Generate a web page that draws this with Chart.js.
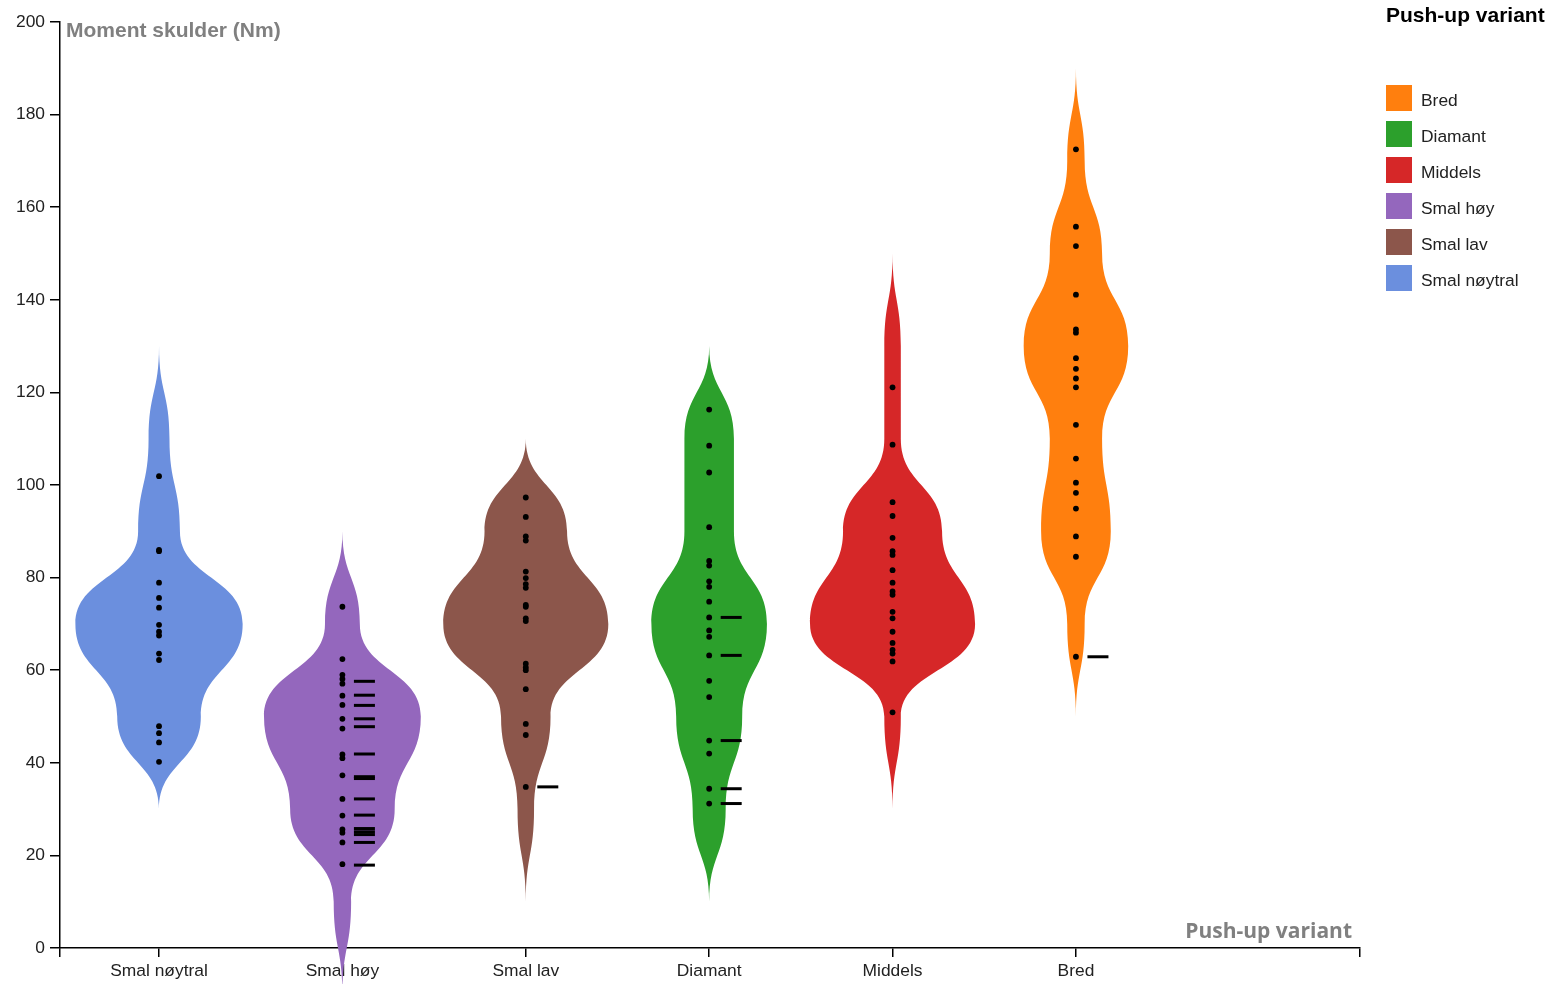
<!DOCTYPE html>
<html>
<head>
<meta charset="utf-8">
<title>Moment skulder per push-up variant</title>
<script src="https://cdn.jsdelivr.net/npm/chart.js@4/dist/chart.umd.min.js"></script>
<style>
  html, body { margin: 0; padding: 0; background: #fff; }
  #wrap { position: relative; width: 1551px; height: 984px; overflow: hidden; }
  #chart { position: absolute; left: 0; top: 0; }
  #legend { position: absolute; left: 1386px; top: 0; width: 165px; height: 300px;
            font-family: "Liberation Sans", Arial, sans-serif; color: #222; }
  #legend .title { position: absolute; left: 0; top: 3px; font-weight: bold; font-size: 21px;
                   line-height: 24px; color: #000; white-space: nowrap; }
  #legend .item { position: absolute; left: 0; height: 26px; white-space: nowrap; }
  #legend .swatch { position: absolute; left: 0; top: 0; width: 26px; height: 26px; }
  #legend .label { position: absolute; left: 35px; top: 2px; font-size: 17.4px; line-height: 26px; }
</style>
</head>
<body>
<div id="wrap">
  <canvas id="chart" width="1551" height="984"></canvas>
  <div id="legend"></div>
</div>
<script>
// Push-up variants in axis order
const categories = ['Smal nøytral', 'Smal høy', 'Smal lav', 'Diamant', 'Middels', 'Bred'];

// Shoulder moment (Nm), one value per subject
const smalNoytral = [101.9, 86.0, 85.7, 78.9, 75.6, 73.5, 69.8, 68.3, 67.5, 63.6, 62.2, 47.9, 46.4, 44.4, 40.2];
const smalHoy = [73.7, 62.4, 59.0, 58.1, 57.1, 54.5, 52.5, 49.5, 47.4, 41.8, 41.0, 37.3, 32.2, 28.6, 25.6, 24.9, 22.8, 18.1];
const smalLav = [97.3, 93.1, 88.9, 88.0, 81.3, 79.9, 78.6, 77.8, 74.1, 73.7, 71.2, 70.6, 61.4, 60.6, 60.0, 55.9, 48.4, 46.0, 34.8];
const diamant = [116.3, 108.5, 102.7, 90.9, 83.6, 82.6, 79.2, 78.0, 74.8, 71.4, 68.6, 67.2, 63.2, 57.7, 54.2, 44.8, 42.0, 34.4, 31.2];
const middels = [121.1, 108.7, 96.3, 93.3, 88.6, 85.7, 84.9, 81.6, 78.9, 77.0, 76.3, 72.6, 71.2, 68.3, 65.9, 64.4, 63.6, 61.9, 50.9];
const bred = [172.5, 155.8, 151.6, 141.1, 133.6, 132.9, 127.4, 125.1, 123.0, 121.1, 113.0, 105.7, 100.5, 98.3, 94.9, 88.9, 84.5, 62.9];

// Marked observations, drawn as short dashes beside each violin
const markSmalNoytral = [];
const markSmalHoy = [57.6, 54.6, 52.4, 49.5, 47.8, 41.9, 37.0, 36.6, 32.2, 28.7, 25.8, 25.1, 24.5, 22.8, 17.9];
const markSmalLav = [34.8];
const markDiamant = [71.4, 63.2, 44.8, 34.4, 31.2];
const markMiddels = [];
const markBred = [62.9];

// Y axis tick values (Nm)
const yTickValues = [0, 20, 40, 60, 80, 100, 120, 140, 160, 180, 200];

// Histogram bin width used for the violin outlines (Nm)
const binWidth = 20;

const groups = [smalNoytral, smalHoy, smalLav, diamant, middels, bred];
const marks = [markSmalNoytral, markSmalHoy, markSmalLav, markDiamant, markMiddels, markBred];
const colors = ['#6b8fde', '#9467bd', '#8c564b', '#2ca02c', '#d62728', '#ff7f0e'];

const FONT = '"Liberation Sans", Arial, sans-serif';
const violinHalfWidth = 0.456;   // widest violin half-width, in category units
const markOffset = 0.12;         // dash centre offset to the right of the violin axis

// Binned density profile, padded with an empty bin at each end so the outline closes in a tip
function violinProfile(values) {
  const lo = Math.floor(Math.min(...values) / binWidth);
  const hi = Math.floor(Math.max(...values) / binWidth);
  const prof = [];
  for (let b = lo - 1; b <= hi + 1; b++) {
    const n = values.filter(v => v >= b * binWidth && v < (b + 1) * binWidth).length;
    prof.push({ mid: (b + 0.5) * binWidth, density: n / values.length });
  }
  return prof;
}
const profiles = groups.map(violinProfile);
const maxDensity = Math.max(...profiles.flatMap(p => p.map(b => b.density)));

// Vertical bump curve: each side is vertical at every bin centre, S-shaped in between
function bumpY(ctx, pts, first) {
  pts.forEach((p, k) => {
    if (k === 0) {
      if (first) ctx.moveTo(p[0], p[1]); else ctx.lineTo(p[0], p[1]);
    } else {
      const q = pts[k - 1];
      const my = (q[1] + p[1]) / 2;
      ctx.bezierCurveTo(q[0], my, p[0], my, p[0], p[1]);
    }
  });
}

// Violin bodies, drawn under the data points
const violinPlugin = {
  id: 'violins',
  beforeDatasetsDraw(chart) {
    const { ctx, scales: { x, y } } = chart;
    profiles.forEach((prof, i) => {
      const side = s => prof.map(b => [
        x.getPixelForValue(i + s * b.density / maxDensity * violinHalfWidth),
        y.getPixelForValue(b.mid)
      ]);
      ctx.save();
      ctx.beginPath();
      bumpY(ctx, side(1), true);
      bumpY(ctx, side(-1).reverse(), false);
      ctx.closePath();
      ctx.fillStyle = colors[i];
      ctx.fill();
      ctx.restore();
    });
  }
};

// Axis titles placed inside the plot corners
const axisTitlePlugin = {
  id: 'axisTitles',
  afterDraw(chart) {
    const { ctx, chartArea: a } = chart;
    ctx.save();
    ctx.fillStyle = '#808080';
    ctx.textBaseline = 'middle';
    ctx.font = 'bold 21px ' + FONT;
    ctx.textAlign = 'left';
    ctx.fillText('Moment skulder (Nm)', a.left + 6, a.top + 9);
    ctx.font = 'bold 21px "Open Sans", sans-serif';
    ctx.textAlign = 'right';
    ctx.fillText('Push-up variant', a.right - 8, a.bottom - 16);
    ctx.restore();
  }
};

const dotData = groups.flatMap((vals, i) => vals.map(v => ({ x: i, y: v })));
const markData = marks.flatMap((vals, i) => vals.map(v => ({ x: i + markOffset, y: v })));

new Chart(document.getElementById('chart'), {
  type: 'scatter',
  data: {
    datasets: [
      { label: 'Målinger', data: dotData, pointRadius: 2.9, pointHoverRadius: 2.9,
        backgroundColor: '#000', borderWidth: 0 },
      { label: 'Markerte', data: markData, pointStyle: 'line', pointRadius: 10.5, pointHoverRadius: 10.5,
        borderColor: '#000', backgroundColor: '#000', borderWidth: 3 }
    ]
  },
  options: {
    responsive: false,
    animation: false,
    devicePixelRatio: 1,
    layout: { padding: { top: 22, right: 191, left: 0, bottom: 0 } },
    plugins: { legend: { display: false }, tooltip: { enabled: false } },
    scales: {
      x: {
        type: 'linear',
        min: -0.54,
        max: 6.549,
        afterBuildTicks: s => {
          s.ticks = [s.min, ...categories.map((c, i) => i), s.max].map(v => ({ value: v }));
        },
        afterFit: s => { s.height = 36; },
        grid: { drawOnChartArea: false, drawTicks: true, tickLength: 9, color: '#000', lineWidth: 1.5 },
        border: { color: '#000', width: 1.5 },
        ticks: {
          autoSkip: false, maxRotation: 0, padding: 4, color: '#222',
          font: { family: FONT, size: 17.4 },
          callback: v => Number.isInteger(v) && categories[v] !== undefined ? categories[v] : ''
        }
      },
      y: {
        min: 0,
        max: 200,
        afterBuildTicks: s => { s.ticks = yTickValues.map(v => ({ value: v })); },
        afterFit: s => { s.width = 60; },
        grid: { drawOnChartArea: false, drawTicks: true, tickLength: 10, color: '#000', lineWidth: 1.5 },
        border: { color: '#000', width: 1.5 },
        ticks: { padding: 5, color: '#222', font: { family: FONT, size: 17.4 } }
      }
    }
  },
  plugins: [violinPlugin, axisTitlePlugin]
});

// Legend, sorted alphabetically like the series names
const legend = document.getElementById('legend');
const title = document.createElement('div');
title.className = 'title';
title.textContent = 'Push-up variant';
legend.appendChild(title);
categories
  .map((name, i) => ({ name, color: colors[i] }))
  .sort((a, b) => a.name.localeCompare(b.name, 'nb'))
  .forEach((entry, k) => {
    const item = document.createElement('div');
    item.className = 'item';
    item.style.top = (85 + 36 * k) + 'px';
    const sw = document.createElement('div');
    sw.className = 'swatch';
    sw.style.background = entry.color;
    const lab = document.createElement('div');
    lab.className = 'label';
    lab.textContent = entry.name;
    item.appendChild(sw);
    item.appendChild(lab);
    legend.appendChild(item);
  });
</script>
</body>
</html>
